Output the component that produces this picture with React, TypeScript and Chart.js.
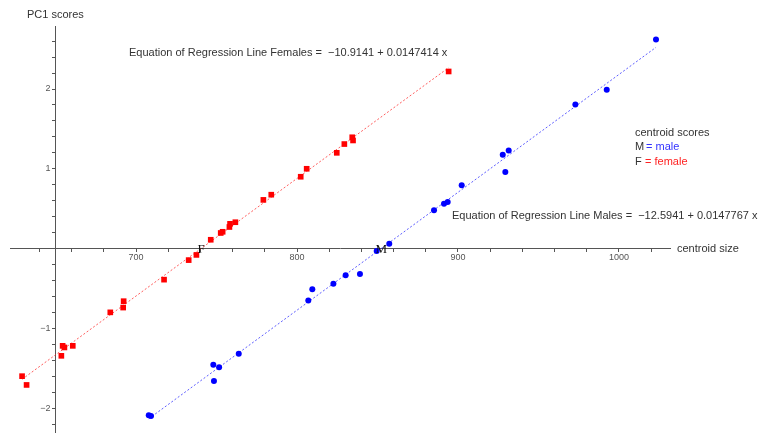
import { useEffect, useRef } from 'react';
import { Chart, registerables } from 'chart.js';

Chart.register(...registerables);

// Female centroid scores (centroid size, PC1 score)
const femaleSize = [629.2, 632, 653.6, 654.4, 655.5, 660.7, 684, 692, 692.3, 717.4, 732.7, 737.5, 746.4, 752.6, 753.8, 758, 758.4, 761.7, 779.1, 784, 802.3, 806, 824.7, 829.4, 834.3, 834.8, 894.2];
const femalePC1 = [-1.6, -1.71, -1.345, -1.22, -1.24, -1.22, -0.8, -0.74, -0.66, -0.39, -0.145, -0.08, 0.11, 0.195, 0.21, 0.27, 0.31, 0.33, 0.61, 0.675, 0.9, 1.0, 1.2, 1.31, 1.395, 1.355, 2.22];

// Male centroid scores
const maleSize = [707.9, 709.3, 748, 751.6, 748.4, 763.8, 807, 809.5, 822.6, 830.2, 839.1, 849.5, 857.3, 885.1, 891.3, 893.6, 902.3, 927.8, 931.5, 929.4, 972.9, 992.4, 1023];
const malePC1 = [-2.09, -2.1, -1.457, -1.487, -1.66, -1.32, -0.65, -0.51, -0.44, -0.335, -0.32, -0.03, 0.06, 0.48, 0.563, 0.584, 0.795, 1.176, 1.23, 0.96, 1.805, 1.99, 2.62];

// Regression coefficients [intercept, slope]
const femaleCoef = [-10.9141, 0.0147414];
const maleCoef = [-12.5941, 0.0147767];

// Regression line extents (centroid size)
const femaleLineRange = [629.2, 894.2];
const maleLineRange = [707.9, 1023];

// Axis ticks
const xTicks = [640, 660, 680, 700, 720, 740, 760, 780, 800, 820, 840, 860, 880, 900, 920, 940, 960, 980, 1000, 1020];
const xTickLabels = [700, 800, 900, 1000];
const yTicks = [-2.2, -2, -1.8, -1.6, -1.4, -1.2, -1, -0.8, -0.6, -0.4, -0.2, 0.2, 0.4, 0.6, 0.8, 1, 1.2, 1.4, 1.6, 1.8, 2, 2.2, 2.4, 2.6];
const yTickLabels = [-2, -1, 1, 2];

const xRange = [621.7, 1031.7];
const yRange = [-2.3, 2.79];
const yAxisAt = 650;

const FONT = '"Liberation Sans", Arial, sans-serif';

const textPlugin = {
  id: 'annotText',
  afterDraw(chart: any) {
    const ctx = chart.ctx;
    const xs = chart.scales.x;
    const ys = chart.scales.y;
    ctx.save();
    ctx.textBaseline = 'middle';
    ctx.textAlign = 'left';
    ctx.fillStyle = '#333';
    ctx.font = `11px ${FONT}`;
    ctx.fillText('PC1 scores', 27, 15);
    ctx.fillText('centroid size', 677, ys.getPixelForValue(0));
    ctx.fillText('Equation of Regression Line Females =  \u221210.9141 + 0.0147414 x', 129, 53);
    ctx.fillText('Equation of Regression Line Males =  \u221212.5941 + 0.0147767 x', 452, 216);

    // legend
    ctx.fillStyle = '#333';
    ctx.fillText('centroid scores', 635, 133);
    ctx.fillText('M', 635, 147);
    ctx.fillText('F', 635, 162);
    ctx.fillStyle = '#3333ff';
    ctx.fillText('= male', 646, 147);
    ctx.fillStyle = '#ff2222';
    ctx.fillText('= female', 645, 162);

    // intercept labels
    ctx.fillStyle = '#111';
    ctx.textAlign = 'center';
    ctx.font = `13px "Liberation Serif", "DejaVu Serif", serif`;
    const fx = -femaleCoef[0] / femaleCoef[1];
    const mx = -maleCoef[0] / maleCoef[1];
    ctx.fillText('F', xs.getPixelForValue(fx), ys.getPixelForValue(0) + 1);
    ctx.fillText('M', xs.getPixelForValue(mx), ys.getPixelForValue(0) + 1);
    ctx.restore();
  },
};

export default function App() {
  const ref = useRef<HTMLCanvasElement | null>(null);
  useEffect(() => {
    if (!ref.current) return;
    const femalePts = femaleSize.map((x, i) => ({ x, y: femalePC1[i] }));
    const malePts = maleSize.map((x, i) => ({ x, y: malePC1[i] }));
    const femaleLine = femaleLineRange.map((x) => ({ x, y: femaleCoef[0] + femaleCoef[1] * x }));
    const maleLine = maleLineRange.map((x) => ({ x, y: maleCoef[0] + maleCoef[1] * x }));
    const axisColor = '#555';
    const chart = new Chart(ref.current, {
      type: 'scatter',
      data: {
        datasets: [
          {
            label: 'Females',
            data: femalePts,
            pointStyle: 'rect',
            pointRadius: 4,
            backgroundColor: '#ff0000',
            borderColor: '#ff0000',
            borderWidth: 0,
            order: 0,
            clip: false,
          } as any,
          {
            label: 'Males',
            data: malePts,
            pointStyle: 'circle',
            pointRadius: 3,
            backgroundColor: '#0000ff',
            borderColor: '#0000ff',
            borderWidth: 0,
            order: 0,
            clip: false,
          },
          {
            type: 'line',
            label: 'Female fit',
            data: femaleLine,
            borderColor: 'rgba(255,40,40,0.75)',
            borderWidth: 1,
            borderDash: [2, 2],
            pointRadius: 0,
            showLine: true,
            order: 1,
          } as any,
          {
            type: 'line',
            label: 'Male fit',
            data: maleLine,
            borderColor: 'rgba(40,40,255,0.75)',
            borderWidth: 1,
            borderDash: [2, 2],
            pointRadius: 0,
            showLine: true,
            order: 1,
          } as any,
        ],
      },
      options: {
        responsive: false,
        animation: false,
        devicePixelRatio: 1,
        layout: { padding: { left: 10, right: 92, top: 26, bottom: 0 } },
        plugins: { legend: { display: false }, tooltip: { enabled: false }, title: { display: false } },
        scales: {
          x: {
            type: 'linear',
            min: xRange[0],
            max: xRange[1],
            position: { y: 0 } as any,
            afterBuildTicks: (s: any) => {
              s.ticks = xTicks.map((v) => ({ value: v }));
            },
            afterFit: (s: any) => {
              s.paddingLeft = 0; s.paddingRight = 0; s.paddingTop = 0; s.paddingBottom = 0;
            },
            grid: { drawOnChartArea: false, drawTicks: true, tickLength: 3, tickColor: axisColor },
            border: { display: true, color: axisColor, width: 1 },
            ticks: {
              autoSkip: false,
              maxRotation: 0,
              padding: 1,
              color: '#555',
              font: { family: FONT, size: 9 },
              callback: (v: any) => (xTickLabels.includes(Math.round(Number(v) * 1000) / 1000) ? String(v) : ''),
            },
          },
          y: {
            type: 'linear',
            min: yRange[0],
            max: yRange[1],
            position: { x: yAxisAt } as any,
            afterBuildTicks: (s: any) => {
              s.ticks = yTicks.map((v) => ({ value: v }));
            },
            afterFit: (s: any) => {
              s.paddingLeft = 0; s.paddingRight = 0; s.paddingTop = 0; s.paddingBottom = 0;
            },
            grid: { drawOnChartArea: false, drawTicks: true, tickLength: 3, tickColor: axisColor },
            border: { display: true, color: axisColor, width: 1 },
            ticks: {
              autoSkip: false,
              padding: 2,
              color: '#555',
              font: { family: FONT, size: 9 },
              callback: (v: any) => {
                const n = Math.round(Number(v) * 1000) / 1000;
                if (!yTickLabels.includes(n)) return '';
                return (n < 0 ? '\u2212' + Math.abs(n) : String(n)) + '  ';
              },
            },
          },
        },
      },
      plugins: [textPlugin],
    });
    return () => chart.destroy();
  }, []);
  return (
    <div style={{ position: 'fixed', left: 0, top: 0, width: 762, height: 436, background: '#fff' }}>
      <canvas ref={ref} width={762} height={436} style={{ display: 'block' }} />
    </div>
  );
}
